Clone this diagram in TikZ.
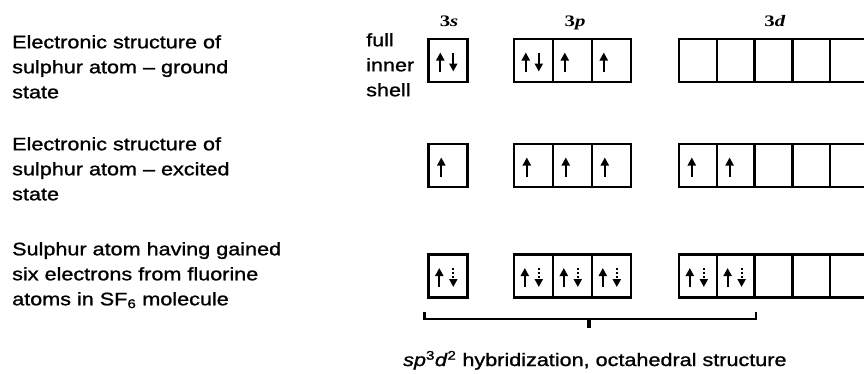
\documentclass[tikz,border=0pt]{standalone}
\usepackage{fontspec}
\setmainfont{Liberation Sans}[FakeStretch=1.2,FakeBold=1.2]
\newfontfamily\orbfont{Liberation Serif}[FakeStretch=1.3]
\usetikzlibrary{calc,arrows.meta}
\tikzset{
  cell/.style={draw, line width=2.4pt, minimum height=43pt, inner sep=0pt},
  scell/.style={cell, minimum width=39pt},
  dcell/.style={cell, minimum width=37.8pt},
  earrow/.style={line width=2.2pt, -{Triangle[length=8pt,width=8pt]}},
  gainarrow/.style={earrow, dash pattern=on 2pt off 2pt},
  desc/.style={anchor=north west, align=left, inner sep=0pt, font=\fontsize{18}{25}\selectfont},
  orblabel/.style={anchor=base, inner sep=0pt, font=\orbfont\bfseries\fontsize{16}{16}\selectfont},
  bracket/.style={line width=2.4pt}
}
\newcommand\elup[2]{\draw[earrow] ($(#1.west)+(#2,11)$) -- ($(#1.west)+(#2,-8)$);}
\newcommand\eldown[2]{\draw[earrow] ($(#1.west)+(#2,-8)$) -- ($(#1.west)+(#2,11)$);}
\newcommand\elgain[2]{\draw[gainarrow] ($(#1.west)+(#2,-8)$) -- ($(#1.west)+(#2,11)$);}
\begin{document}
\begin{tikzpicture}[x=1pt,y=-1pt]
\clip (0,0) rectangle (864,373);
\fill[white] (0,0) rectangle (864,373);

% descriptions
\node[desc] (t1) at (12,35) {Electronic structure of\\sulphur atom -- ground\\state};
\node[desc] (t2) at (12,137) {Electronic structure of\\sulphur atom -- excited\\state};
\node[desc] (t3) at (12,242) {Sulphur atom having gained\\six electrons from fluorine\\atoms in SF\textsubscript{6} molecule};
\node[desc] (fis) at (366,33) {full\\inner\\shell};

% orbital labels
\node[orblabel] (l3s) at (449,26) {3\textit{s}};
\node[orblabel] (l3p) at (575,26) {3\textit{p}};
\node[orblabel] (l3d) at (775,26) {3\textit{d}};

% rows of cells
\foreach \r/\y in {1/60.5, 2/165.5, 3/276}{
  \node[scell] (r\r s) at (448,\y) {};
  \node[scell] (r\r p1) at (533.5,\y) {};
  \node[scell] (r\r p2) at (572.5,\y) {};
  \node[scell] (r\r p3) at (611.5,\y) {};
  \node[dcell] (r\r d1) at (697.9,\y) {};
  \node[dcell] (r\r d2) at (735.7,\y) {};
  \node[dcell] (r\r d3) at (773.5,\y) {};
  \node[dcell] (r\r d4) at (811.3,\y) {};
  \node[dcell] (r\r d5) at (849.1,\y) {};
}

% row 1: ground state
\elup{r1s}{13}\eldown{r1s}{26}
\elup{r1p1}{13}\eldown{r1p1}{26}
\elup{r1p2}{13}
\elup{r1p3}{13}

% row 2: excited state
\elup{r2s}{14}
\elup{r2p1}{14}\elup{r2p2}{14}\elup{r2p3}{14}
\elup{r2d1}{14}\elup{r2d2}{14}

% row 3: SF6
\foreach \c in {r3s,r3p1,r3p2,r3p3,r3d1,r3d2}{
  \elup{\c}{12}\elgain{\c}{26}
}

% bracket
\coordinate (bl) at ($(r3s.south west)+(-3,13)$);
\coordinate (br) at ($(r3d2.south east)+(0,13)$);
\coordinate (bm) at (589,318);
\draw[bracket] (bl) -- ++(0,7) -- ($(br)+(0,7)$) -- (br);
\draw[line width=4pt] (bm) -- ++(0,10);

% caption
\node[anchor=base west, inner sep=0pt, font=\fontsize{18}{25}\selectfont] (cap) at (403,366)
  {\textit{sp}\textsuperscript{3}\textit{d}\textsuperscript{2} hybridization, octahedral structure};
\end{tikzpicture}
\end{document}
